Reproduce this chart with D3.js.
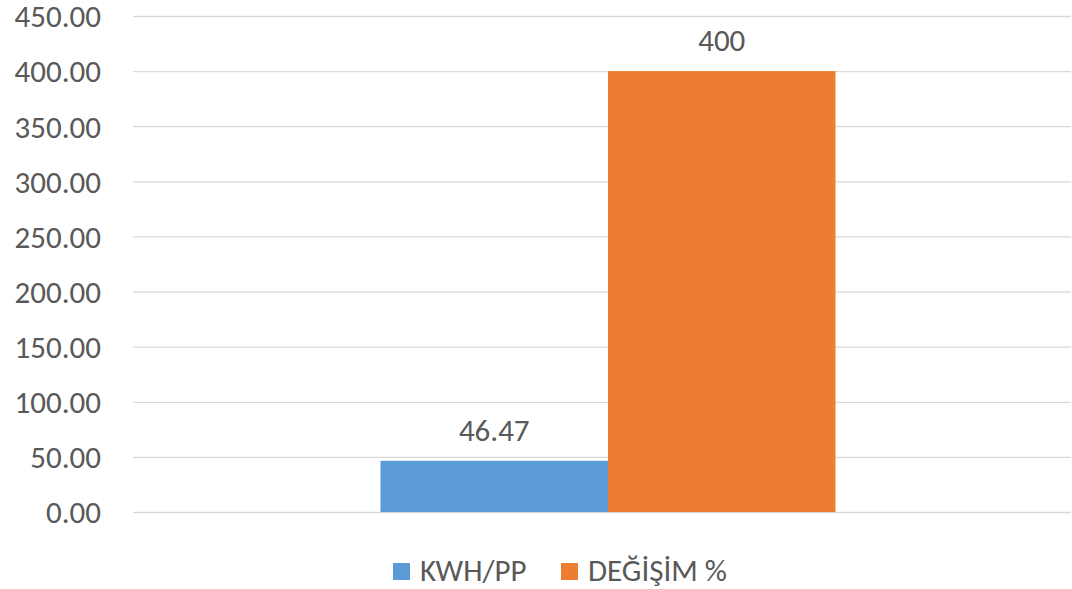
<!DOCTYPE html>
<html>
<head>
<meta charset="utf-8">
<script src="https://d3js.org/d3.v7.min.js"></script>
<style>
  body { margin: 0; background: #fff; }
  text { font-family: Carlito, Calibri, "Open Sans", sans-serif; fill: #595959; }
</style>
</head>
<body>
<script>
var categories = ['Toplam'];
var seriesNames = ['KWH/PP', 'DEĞİŞİM %'];
var seriesValues = [46.47, 400];
var seriesLabels = ['46.47', '400'];
var yTicks = [0, 50, 100, 150, 200, 250, 300, 350, 400, 450];
var colors = ['#5B9BD5', '#ED7D31'];

var width = 1072;
var height = 589;
var plotLeft = 133, plotRight = 1071, plotTop = 16, plotBottom = 512;
var fontSize = '31px';

var svg = d3.select('body')
    .append('svg')
    .attr('width', width)
    .attr('height', height);

var y = d3.scaleLinear()
    .domain([0, 450])
    .range([plotBottom, plotTop]);

// one category, placed so the bar pair is centred like the original
var x0 = d3.scaleBand()
    .domain(categories)
    .range([145, plotRight])
    .paddingInner(0)
    .paddingOuter(0.5176);

var x1 = d3.scaleBand()
    .domain(seriesNames)
    .range([0, x0.bandwidth()]);

var yAxis = d3.axisLeft(y)
    .tickValues(yTicks)
    .tickFormat(d3.format('.2f'))
    .tickSize(-(plotRight - plotLeft))
    .tickPadding(32);

var ga = svg.append('g')
    .attr('transform', 'translate(' + plotLeft + ',0)')
    .call(yAxis);
ga.select('.domain').remove();
ga.selectAll('line').attr('stroke', '#D9D9D9').attr('stroke-width', 1.3);
ga.selectAll('text')
    .style('font-size', fontSize)
    .style('font-family', null)
    .attr('font-family', null)
    .attr('fill', '#595959')
    .attr('dy', '0.35em');

var bars = seriesNames.map(function(s, i) {
  return { series: s, value: seriesValues[i], label: seriesLabels[i], color: colors[i] };
});

var g = svg.append('g')
    .attr('transform', 'translate(' + x0(categories[0]) + ',0)');

g.selectAll('rect')
    .data(bars)
    .enter()
    .append('rect')
    .attr('x', function(d) { return x1(d.series); })
    .attr('width', x1.bandwidth())
    .attr('y', function(d) { return y(d.value); })
    .attr('height', function(d) { return plotBottom - y(d.value); })
    .attr('fill', function(d) { return d.color; });

g.selectAll('.lbl')
    .data(bars)
    .enter()
    .append('text')
    .attr('class', 'lbl')
    .attr('x', function(d) { return x1(d.series) + x1.bandwidth() / 2; })
    .attr('y', function(d) { return y(d.value) - 20; })
    .attr('text-anchor', 'middle')
    .style('font-size', fontSize)
    .text(function(d) { return d.label; });

// legend
var legendX = [393, 561];
var leg = svg.selectAll('.leg')
    .data(bars)
    .enter()
    .append('g')
    .attr('class', 'leg')
    .attr('transform', function(d, i) { return 'translate(' + legendX[i] + ',563)'; });

leg.append('rect')
    .attr('width', 17)
    .attr('height', 17)
    .attr('fill', function(d) { return d.color; });

leg.append('text')
    .attr('x', 27)
    .attr('y', 18)
    .style('font-size', fontSize)
    .text(function(d) { return d.series; });
</script>
</body>
</html>
